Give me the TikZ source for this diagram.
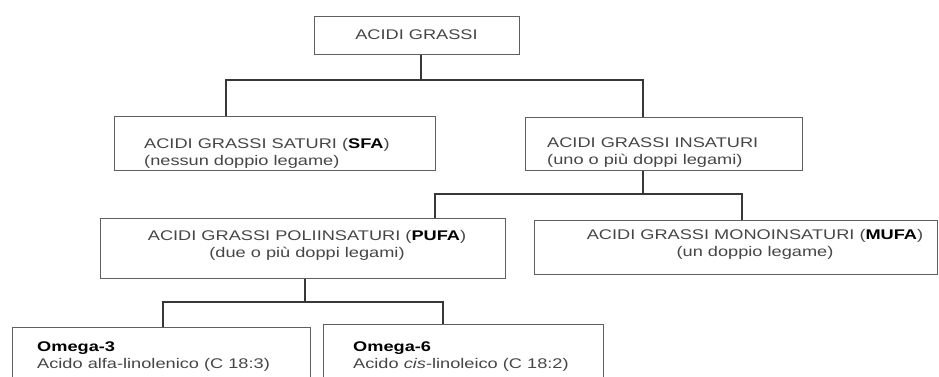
\documentclass[tikz,border=0pt]{standalone}
\usepackage{fontspec}
\setmainfont{Liberation Sans}[FakeStretch=1.3]
\definecolor{boxgray}{RGB}{95,95,95}
\definecolor{conngray}{RGB}{55,55,55}
\definecolor{textgray}{RGB}{70,70,70}
\begin{document}
\begin{tikzpicture}[x=1pt,y=1pt,
  box/.style={draw=boxgray, line width=1.2pt, inner sep=0pt, anchor=north west},
  conn/.style={draw=conngray, line width=1.3pt},
  txt/.style={font=\fontsize{14}{17}\selectfont, text=textgray, inner sep=0pt}]
\useasboundingbox (0,0) rectangle (939,-376);
\clip (0,0) rectangle (939,-376);
\fill[white] (0,0) rectangle (939,-376);
% boxes
\node[box, minimum width=205pt, minimum height=38pt] (top) at (314,-16) {};
\node[box, minimum width=321pt, minimum height=54pt] (sfa) at (114,-116) {};
\node[box, minimum width=277pt, minimum height=53pt] (ins) at (525,-117) {};
\node[box, minimum width=405pt, minimum height=60pt] (pufa) at (100,-218) {};
\node[box, minimum width=403pt, minimum height=54pt] (mufa) at (534,-220) {};
\node[box, minimum width=298pt, minimum height=80pt] (o3) at (12,-327) {};
\node[box, minimum width=280pt, minimum height=80pt] (o6) at (323,-324) {};
% texts
\node[txt] (ttop) at (416.5,-35) {ACIDI GRASSI};
\node[txt, anchor=west, align=left] (tsfa) at (144,-153) {ACIDI GRASSI SATURI (\textbf{\color{black}SFA})\\(nessun doppio legame)};
\node[txt, anchor=west, align=left] (tins) at (547,-153) {ACIDI GRASSI INSATURI\\(uno o più doppi legami)};
\node[txt, align=center] (tpufa) at (307,-245) {ACIDI GRASSI POLIINSATURI (\textbf{\color{black}PUFA})\\(due o più doppi legami)};
\node[txt, align=center] (tmufa) at (755,-244) {ACIDI GRASSI MONOINSATURI (\textbf{\color{black}MUFA})\\(un doppio legame)};
\node[txt, anchor=west, align=left] (to3) at (37,-357) {\textbf{\color{black}Omega-3}\\Acido alfa-linolenico (C 18:3)};
\node[txt, anchor=west, align=left] (to6) at (353,-357) {\textbf{\color{black}Omega-6}\\Acido \textit{cis}-linoleico (C 18:2)};
% junction coordinates
\coordinate (j1) at (421,-80);
\coordinate (j1l) at (226,-80);
\coordinate (j1r) at (643,-80);
\coordinate (j2) at (643,-194);
\coordinate (j2l) at (435,-194);
\coordinate (j2r) at (742,-194);
\coordinate (j3) at (305,-302);
\coordinate (j3l) at (163,-302);
\coordinate (j3r) at (443,-302);
% connectors
\draw[conn] (top.south -| j1) -- (j1);
\draw[conn] (sfa.north -| j1l) -- (j1l) -- (j1r) -- (ins.north -| j1r);
\draw[conn] (ins.south -| j2) -- (j2);
\draw[conn] (pufa.north -| j2l) -- (j2l) -- (j2r) -- (mufa.north -| j2r);
\draw[conn] (pufa.south -| j3) -- (j3);
\draw[conn] (o3.north -| j3l) -- (j3l) -- (j3r) -- (o6.north -| j3r);
\end{tikzpicture}
\end{document}
